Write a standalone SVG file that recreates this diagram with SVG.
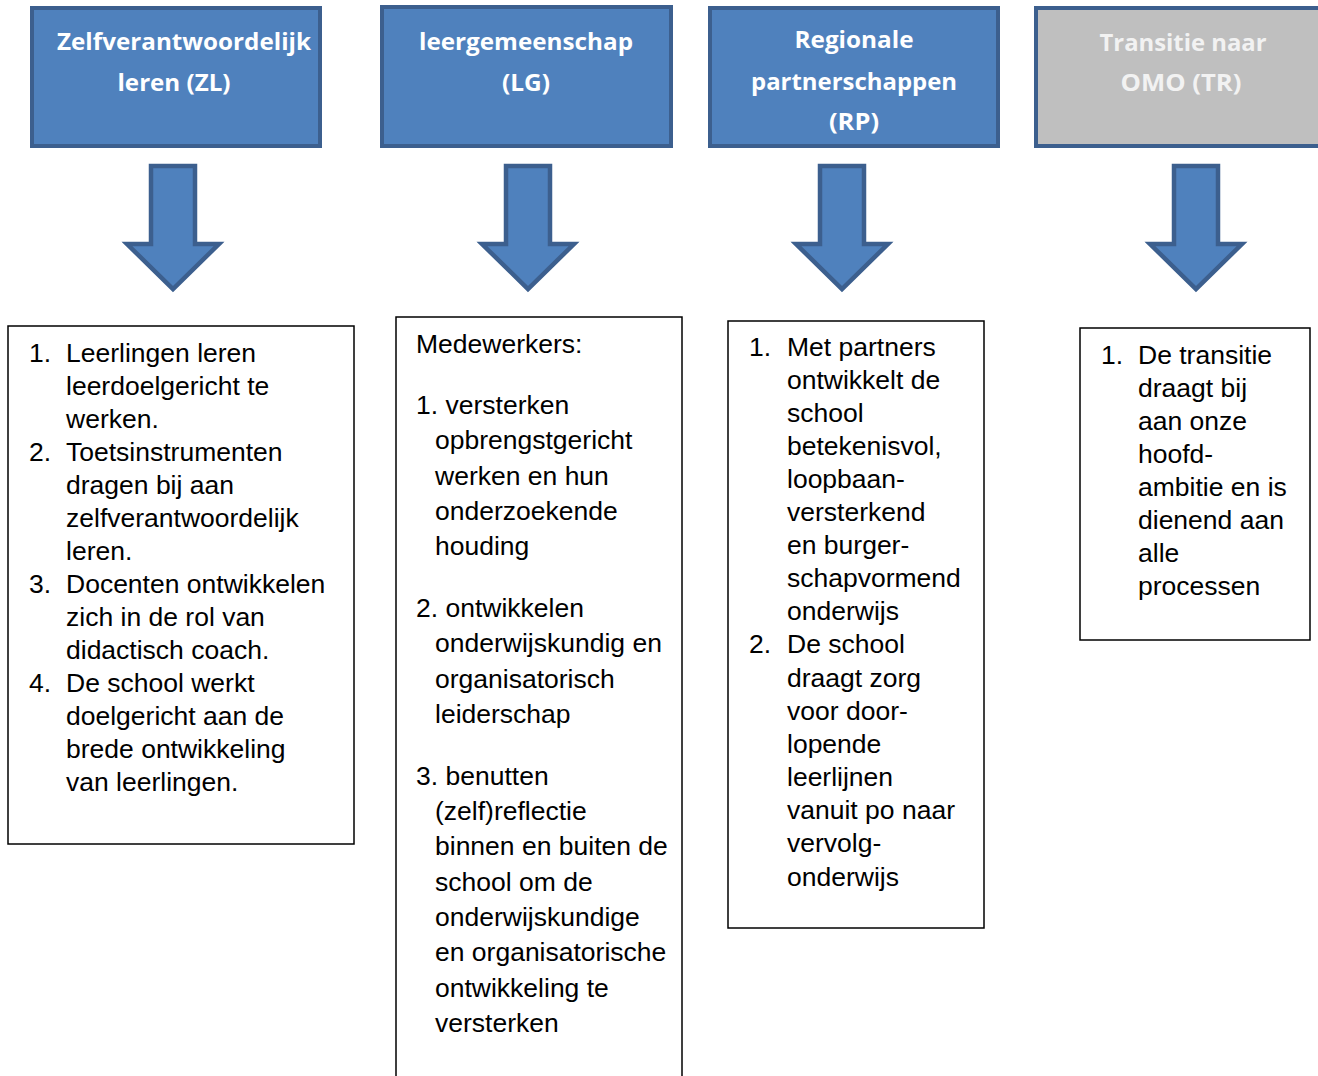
<svg xmlns="http://www.w3.org/2000/svg" width="1318" height="1076" viewBox="0 0 1318 1076">
<style>
.hdr{fill:#4f81bd;stroke:#3c5f8e;stroke-width:4}
.hdrg{fill:#bfbfbf;stroke:#3c5f8e;stroke-width:4}
.ht{font-family:"Open Sans","Noto Sans",sans-serif;font-weight:bold;font-size:23px;fill:#ffffff;text-anchor:middle}
.htg{fill:#f2f2f2}
.box{fill:#ffffff;stroke:#000000;stroke-width:1.5}
.bt{font-family:"Liberation Sans",Arial,sans-serif;font-size:26.5px;fill:#000000}
.arr{fill:#4f81bd;stroke:#3c5f8e;stroke-width:4.5;stroke-linejoin:miter;stroke-miterlimit:10}
</style>
<defs>
<polygon id="arrow" points="-22,0 22,0 22,78 46,78 0,123 -46,78 -22,78"/>
</defs>
<rect width="1318" height="1076" fill="#ffffff"/>

<g id="hdr-zl">
<rect class="hdr" x="32" y="8" width="288" height="138"/>
<text class="ht" x="184" y="50" textLength="254" lengthAdjust="spacingAndGlyphs">Zelfverantwoordelijk</text>
<text class="ht" x="174" y="91" textLength="113" lengthAdjust="spacingAndGlyphs">leren (ZL)</text>
</g>
<g id="hdr-lg">
<rect class="hdr" x="382" y="7" width="289" height="139"/>
<text class="ht" x="526" y="50" textLength="214" lengthAdjust="spacingAndGlyphs">leergemeenschap</text>
<text class="ht" x="526" y="91" textLength="48" lengthAdjust="spacingAndGlyphs">(LG)</text>
</g>
<g id="hdr-rp">
<rect class="hdr" x="710" y="8" width="288" height="138"/>
<text class="ht" x="854" y="48" textLength="119" lengthAdjust="spacingAndGlyphs">Regionale</text>
<text class="ht" x="854" y="90" textLength="206" lengthAdjust="spacingAndGlyphs">partnerschappen</text>
<text class="ht" x="854" y="130" textLength="50" lengthAdjust="spacingAndGlyphs">(RP)</text>
</g>
<g id="hdr-tr">
<rect class="hdrg" x="1036" y="8" width="290" height="138"/>
<text class="ht htg" x="1183" y="51" textLength="167" lengthAdjust="spacingAndGlyphs">Transitie naar</text>
<text class="ht htg" x="1181" y="91" textLength="121" lengthAdjust="spacingAndGlyphs">OMO (TR)</text>
</g>

<g id="connectors">
<use href="#arrow" class="arr" x="173" y="166"/>
<use href="#arrow" class="arr" x="528" y="166"/>
<use href="#arrow" class="arr" x="842" y="166"/>
<use href="#arrow" class="arr" x="1196" y="166"/>
</g>

<g id="box-zl">
<rect class="box" x="8" y="326" width="346" height="518"/>
<text class="bt">
<tspan x="29" y="362">1.</tspan><tspan x="66" y="362">Leerlingen leren</tspan>
<tspan x="66" y="395">leerdoelgericht te</tspan>
<tspan x="66" y="428">werken.</tspan>
<tspan x="29" y="461">2.</tspan><tspan x="66" y="461">Toetsinstrumenten</tspan>
<tspan x="66" y="494">dragen bij aan</tspan>
<tspan x="66" y="527">zelfverantwoordelijk</tspan>
<tspan x="66" y="560">leren.</tspan>
<tspan x="29" y="593">3.</tspan><tspan x="66" y="593">Docenten ontwikkelen</tspan>
<tspan x="66" y="626">zich in de rol van</tspan>
<tspan x="66" y="659">didactisch coach.</tspan>
<tspan x="29" y="692">4.</tspan><tspan x="66" y="692">De school werkt</tspan>
<tspan x="66" y="725">doelgericht aan de</tspan>
<tspan x="66" y="758">brede ontwikkeling</tspan>
<tspan x="66" y="791">van leerlingen.</tspan>
</text>
</g>

<g id="box-lg">
<rect class="box" x="396" y="317" width="286" height="770"/>
<text class="bt">
<tspan x="416" y="353">Medewerkers:</tspan>
<tspan x="416" y="414">1. versterken</tspan>
<tspan x="435" y="449">opbrengstgericht</tspan>
<tspan x="435" y="485">werken en hun</tspan>
<tspan x="435" y="520">onderzoekende</tspan>
<tspan x="435" y="555">houding</tspan>
<tspan x="416" y="617">2. ontwikkelen</tspan>
<tspan x="435" y="652">onderwijskundig en</tspan>
<tspan x="435" y="688">organisatorisch</tspan>
<tspan x="435" y="723">leiderschap</tspan>
<tspan x="416" y="785">3. benutten</tspan>
<tspan x="435" y="820">(zelf)reflectie</tspan>
<tspan x="435" y="855">binnen en buiten de</tspan>
<tspan x="435" y="891">school om de</tspan>
<tspan x="435" y="926">onderwijskundige</tspan>
<tspan x="435" y="961">en organisatorische</tspan>
<tspan x="435" y="997">ontwikkeling te</tspan>
<tspan x="435" y="1032">versterken</tspan>
</text>
</g>

<g id="box-rp">
<rect class="box" x="728" y="321" width="256" height="607"/>
<text class="bt">
<tspan x="749" y="356">1.</tspan><tspan x="787" y="356">Met partners</tspan>
<tspan x="787" y="389">ontwikkelt de</tspan>
<tspan x="787" y="422">school</tspan>
<tspan x="787" y="455">betekenisvol,</tspan>
<tspan x="787" y="488">loopbaan-</tspan>
<tspan x="787" y="521">versterkend</tspan>
<tspan x="787" y="554">en burger-</tspan>
<tspan x="787" y="587">schapvormend</tspan>
<tspan x="787" y="620">onderwijs</tspan>
<tspan x="749" y="653">2.</tspan><tspan x="787" y="653">De school</tspan>
<tspan x="787" y="687">draagt zorg</tspan>
<tspan x="787" y="720">voor door-</tspan>
<tspan x="787" y="753">lopende</tspan>
<tspan x="787" y="786">leerlijnen</tspan>
<tspan x="787" y="819">vanuit po naar</tspan>
<tspan x="787" y="852">vervolg-</tspan>
<tspan x="787" y="886">onderwijs</tspan>
</text>
</g>

<g id="box-tr">
<rect class="box" x="1080" y="328" width="230" height="312"/>
<text class="bt">
<tspan x="1101" y="364">1.</tspan><tspan x="1138" y="364">De transitie</tspan>
<tspan x="1138" y="397">draagt bij</tspan>
<tspan x="1138" y="430">aan onze</tspan>
<tspan x="1138" y="463">hoofd-</tspan>
<tspan x="1138" y="496">ambitie en is</tspan>
<tspan x="1138" y="529">dienend aan</tspan>
<tspan x="1138" y="562">alle</tspan>
<tspan x="1138" y="595">processen</tspan>
</text>
</g>
</svg>
